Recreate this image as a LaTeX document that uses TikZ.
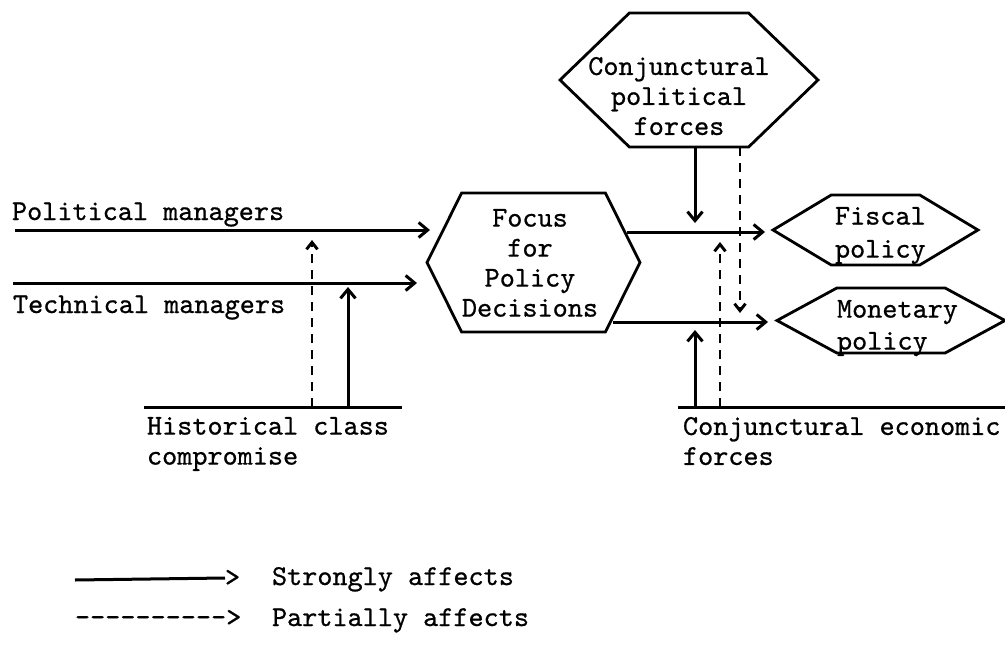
\documentclass[tikz,border=0pt]{standalone}
\usepackage{fontspec}
\usetikzlibrary{arrows.meta,shapes.symbols}
\newfontfamily\twfam[FakeBold=0.7]{lmmono10-regular.otf}
\newcommand{\twfont}{\fontsize{28.8}{30}\selectfont\twfam}
\tikzset{
  txt/.style={font=\twfont, inner sep=0pt, outer sep=0pt},
  hexa/.style={draw, line width=2.8pt, shape=signal, signal to=west and east,
    signal from=nowhere, inner sep=0pt, outer sep=0pt},
  bar/.style={line width=3pt},
  strong/.style={line width=3pt, -{Straight Barb[length=9pt,width=15pt,line width=3pt]}},
  partial/.style={line width=2.9pt, dash pattern=on 9pt off 7pt,
    -{Straight Barb[length=7pt,width=11pt,line width=2.9pt]}}
}
\begin{document}
\begin{tikzpicture}[x=1pt,y=-1pt]
\useasboundingbox (0,0) rectangle (1005,651);

% decision-making focus and outcomes
\node[hexa, minimum width=213pt, minimum height=139pt, signal pointer angle=127]
  (focus) at (533.5,262.5) {};
\node[txt, anchor=north, align=center] (focusT) at (530,209) {Focus\\for\\Policy\\Decisions};
\node[hexa, minimum width=258pt, minimum height=134pt, signal pointer angle=88]
  (cpf) at (689,80) {};
\node[txt, anchor=north, align=center] (cpfT) at (679,57) {Conjunctural\\political\\forces};
\node[hexa, minimum width=205pt, minimum height=70pt, signal pointer angle=62]
  (fiscal) at (875.5,230) {};
\node[txt, anchor=north west, align=left] (fiscalT) at (835,207) {Fiscal\\[3pt]policy};
\node[hexa, minimum width=228pt, minimum height=65pt, signal pointer angle=57]
  (monetary) at (891,320.5) {};
\node[txt, anchor=north west, align=left] (monetaryT) at (837,300) {Monetary\\[2pt]policy};

% actors on the left and the forces below
\node[txt, anchor=base west] (pm) at (12,220) {Political managers};
\node[txt, anchor=base west] (tm) at (13,313) {Technical managers};
\node[txt, anchor=north west, align=left] (hcc) at (147,417) {Historical class\\compromise};
\node[txt, anchor=north west, align=left] (cef) at (683,417) {Conjunctural economic\\forces};

% line ends
\coordinate (pmA) at (15,230);
\coordinate (pmB) at (430,230);
\coordinate (tmA) at (13,283);
\coordinate (tmB) at (417,283);
\coordinate (hcA) at (144,407);
\coordinate (hcB) at (402,407);
\coordinate (ceA) at (678,407);
\coordinate (ceB) at (1005,407);
\coordinate (fsA) at (627,232);
\coordinate (fsB) at (765,232);
\coordinate (mnA) at (613,322);
\coordinate (mnB) at (768,322);

\draw[strong] (pmA) -- (pmB);
\draw[strong] (tmA) -- (tmB);
\draw[bar] (hcA) -- (hcB);
\draw[bar] (ceA) -- (ceB);
\draw[strong] (fsA) -- (fsB);
\draw[strong] (mnA) -- (mnB);

% influences on the decision lines
\draw[partial] (hcA -| 312,0) -- (312,240);
\draw[strong] (hcA -| 348,0) -- (348,287);
\draw[strong] ([xshift=6pt]cpf.south) -- (695,223);
\draw[partial] ([xshift=51pt]cpf.south) -- (740,313);
\draw[strong] (ceA -| 695,0) -- (695,330);
\draw[partial] (ceA -| 720,0) -- (720,242);

% key
\coordinate (keyA) at (75,580);
\node[txt, anchor=west] (keyGt) at (225,578) {>};
\draw[bar] (keyA) -- (keyGt.west);
\node[txt, anchor=base west] (keyS) at (272,585) {Strongly affects};
\node[txt, anchor=base west] (keyD) at (75,626) {---------->};
\node[txt, anchor=base west] (keyP) at (272,626) {Partially affects};
\end{tikzpicture}
\end{document}
